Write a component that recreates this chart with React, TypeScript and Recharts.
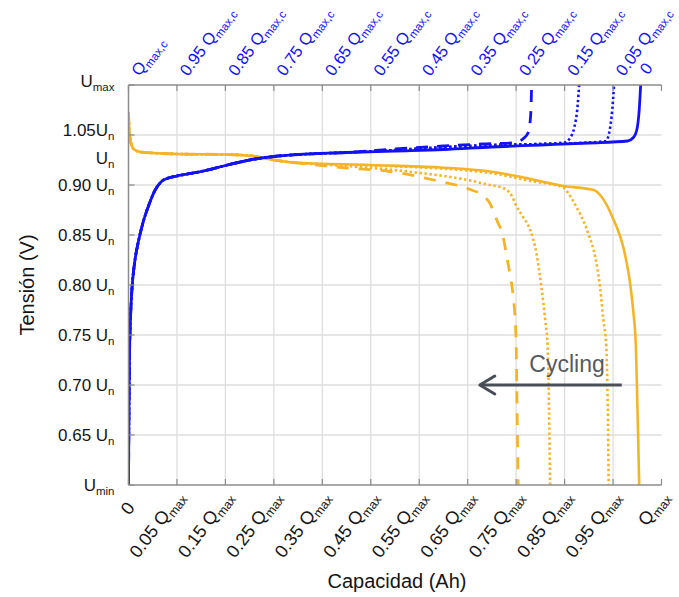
import React from "react";
import {
  CartesianGrid,
  Label,
  Line,
  LineChart,
  ReferenceDot,
  XAxis,
  YAxis,
} from "recharts";

// x in gridline units (0 = left border, 11 = right border), y in gridline units (0 = Umin, 8 = Umax)
const xTicks = [0, 1, 2, 3, 4, 5, 6, 7, 8, 9, 10, 11];
const bottomTickMain = ["0", "0.05 Q", "0.15 Q", "0.25 Q", "0.35 Q", "0.45 Q", "0.55 Q", "0.65 Q", "0.75 Q", "0.85 Q", "0.95 Q", "Q"];
const bottomTickSub = ["", "max", "max", "max", "max", "max", "max", "max", "max", "max", "max", "max"];
const topTickMain = ["Q", "0.95 Q", "0.85 Q", "0.75 Q", "0.65 Q", "0.55 Q", "0.45 Q", "0.35 Q", "0.25 Q", "0.15 Q", "0.05 Q", "0"];
const topTickSub = ["max,c", "max,c", "max,c", "max,c", "max,c", "max,c", "max,c", "max,c", "max,c", "max,c", "max,c", ""];

const yTicks = [0, 1, 2, 3, 4, 5, 6, 6.55, 7, 8];
const yTickMain = ["U", "0.65 U", "0.70 U", "0.75 U", "0.80 U", "0.85 U", "0.90 U", "U", "1.05U", "U"];
const yTickSub = ["min", "n", "n", "n", "n", "n", "n", "n", "n", "max"];
const rightTicks = [0, 1, 2, 3, 4, 5, 6, 7, 8];

const gridX = [1, 2, 3, 4, 5, 6, 7, 8, 9, 10];
const gridY = [1, 2, 3, 4, 5, 6, 7];

// charge (blue)
const chargeStartQ = [0, 0.01, 0.02, 0.04, 0.07, 0.12, 0.2, 0.3, 0.42, 0.55, 0.68, 0.82, 1.0, 1.5, 2.0, 2.5, 3.0, 3.7, 4.5];
const chargeStartU = [0, 1.5, 2.5, 3.3, 3.9, 4.4, 4.85, 5.25, 5.6, 5.9, 6.07, 6.14, 6.18, 6.27, 6.39, 6.5, 6.57, 6.62, 6.65];
const chargeSolidQ = [5.5, 6.5, 7.5, 8.5, 9.5, 10.3, 10.42, 10.49, 10.54, 10.57];
const chargeSolidU = [6.68, 6.71, 6.76, 6.8, 6.84, 6.88, 6.95, 7.1, 7.5, 8];
const chargeDottedAQ = [5.5, 6.5, 7.5, 8.5, 9.5, 9.85, 9.94, 10.0, 10.02];
const chargeDottedAU = [6.7, 6.75, 6.8, 6.82, 6.85, 6.88, 7.15, 7.7, 8];
const chargeDottedBQ = [5.5, 6.5, 7.5, 8.5, 9.0, 9.12, 9.2, 9.27, 9.3];
const chargeDottedBU = [6.7, 6.76, 6.8, 6.82, 6.85, 6.95, 7.15, 7.6, 8];
const chargeDashedQ = [5.5, 6.5, 7.3, 7.9, 8.04, 8.15, 8.25, 8.3, 8.32];
const chargeDashedU = [6.72, 6.78, 6.82, 6.84, 6.87, 6.93, 7.05, 7.4, 8];

// discharge (orange)
const dischargeStartQ = [0, 0.01, 0.03, 0.07, 0.13, 0.25, 0.5, 1.0, 2.0, 2.55, 3.0, 3.4];
const dischargeStartU = [7.45, 7.2, 6.95, 6.78, 6.7, 6.66, 6.64, 6.62, 6.61, 6.58, 6.5, 6.45];
const dischargeSolidQ = [4.98, 6.43, 7.46, 8.0, 8.97, 9.6, 9.75, 9.87, 10.0, 10.1, 10.2, 10.28, 10.35, 10.42, 10.47, 10.5, 10.54];
const dischargeSolidU = [6.4, 6.35, 6.27, 6.18, 5.98, 5.9, 5.78, 5.6, 5.33, 5.1, 4.8, 4.45, 4.05, 3.45, 2.8, 1.7, 0];
const dischargeDottedAQ = [4.98, 6.43, 7.46, 8.3, 8.97, 9.1, 9.25, 9.38, 9.5, 9.63, 9.73, 9.8, 9.86, 9.89, 9.91];
const dischargeDottedAU = [6.39, 6.33, 6.24, 6.08, 5.95, 5.8, 5.55, 5.3, 5.0, 4.57, 3.97, 3.3, 2.77, 1.6, 0];
const dischargeDottedBQ = [4.5, 5.94, 7.0, 7.46, 7.73, 7.9, 8.01, 8.15, 8.29, 8.42, 8.52, 8.6, 8.65, 8.68, 8.7];
const dischargeDottedBU = [6.38, 6.25, 6.1, 6.0, 5.94, 5.8, 5.57, 5.35, 5.1, 4.63, 3.97, 3.3, 2.77, 1.5, 0];
const dischargeDashedQ = [4.5, 5.39, 6.3, 7.05, 7.3, 7.46, 7.6, 7.73, 7.8, 7.87, 7.94, 7.98, 8.0, 8.02, 8.04];
const dischargeDashedU = [6.34, 6.27, 6.1, 5.91, 5.8, 5.63, 5.3, 4.97, 4.6, 4.23, 3.77, 3.3, 2.83, 1.5, 0];

// "Cycling" arrow
const arrowQ = [10.18, 7.25];
const arrowU = [2, 2];
const cyclingQ = 9.05;
const cyclingU = 2.43;

const BLUE = "#1212f5";
const ORANGE = "#f5b428";
const AXIS = "#8c8c8c";
const GRID = "#dedede";
const TEXT = "#151515";

const zip = (q: number[], u: number[]) => q.map((v, i) => ({ q: v, u: u[i] }));

const chargeSolid = zip(chargeStartQ.concat(chargeSolidQ), chargeStartU.concat(chargeSolidU));
const chargeDottedA = zip(chargeStartQ.concat(chargeDottedAQ), chargeStartU.concat(chargeDottedAU));
const chargeDottedB = zip(chargeStartQ.concat(chargeDottedBQ), chargeStartU.concat(chargeDottedBU));
const chargeDashed = zip(chargeStartQ.concat(chargeDashedQ), chargeStartU.concat(chargeDashedU));
const dischargeSolid = zip(dischargeStartQ.concat(dischargeSolidQ), dischargeStartU.concat(dischargeSolidU));
const dischargeDottedA = zip(dischargeStartQ.concat(dischargeDottedAQ), dischargeStartU.concat(dischargeDottedAU));
const dischargeDottedB = zip(dischargeStartQ.concat(dischargeDottedBQ), dischargeStartU.concat(dischargeDottedBU));
const dischargeDashed = zip(dischargeStartQ.concat(dischargeDashedQ), dischargeStartU.concat(dischargeDashedU));
const arrowData = zip(arrowQ, arrowU);

const LeftTick = ({ x, y, payload }: any) => {
  const i = yTicks.indexOf(payload.value);
  // the top two labels sit a little above their gridlines in the original
  const lift = payload.value === 8 ? -4 : payload.value === 7 ? -5 : 0;
  return (
    <g>
      {Number.isInteger(payload.value) && (
        <line x1={x} y1={y} x2={x + 6} y2={y} stroke={AXIS} strokeWidth={1.2} />
      )}
      <text x={x - 14} y={y + 6 + lift} textAnchor="end" fontSize={17} fill={TEXT}>
        {yTickMain[i]}
        <tspan fontSize={11.5} dy={4}>
          {yTickSub[i]}
        </tspan>
      </text>
    </g>
  );
};

const RightTick = ({ x, y }: any) => (
  <line x1={x} y1={y} x2={x - 6} y2={y} stroke={AXIS} strokeWidth={1.2} />
);

const BottomTick = ({ x, y, payload }: any) => {
  const i = xTicks.indexOf(payload.value);
  const zero = bottomTickSub[i] === "";
  return (
    <g>
      <line x1={x} y1={y} x2={x} y2={y - 6} stroke={AXIS} strokeWidth={1.2} />
      <text
        transform={`translate(${x + (zero ? 7 : 8)},${y + (zero ? 23 : 12)}) rotate(-53)`}
        textAnchor="end"
        fontSize={18}
        fill={TEXT}
      >
        {bottomTickMain[i]}
        <tspan fontSize={12.5} dy={4}>
          {bottomTickSub[i]}
        </tspan>
      </text>
    </g>
  );
};

const TopTick = ({ x, y, payload }: any) => {
  const i = xTicks.indexOf(payload.value);
  const zero = topTickSub[i] === "";
  return (
    <g>
      <line x1={x} y1={y} x2={x} y2={y + 6} stroke={AXIS} strokeWidth={1.2} />
      <text
        transform={`translate(${zero ? x - 8 : x + 11},${y - (zero ? 17 : 8)}) rotate(-54)`}
        textAnchor={zero ? "end" : "start"}
        fontSize={16.5}
        fill={BLUE}
      >
        {topTickMain[i]}
        <tspan fontSize={11.5} dy={4}>
          {topTickSub[i]}
        </tspan>
      </text>
    </g>
  );
};

const ArrowHead = (props: any) => {
  const { cx, cy, index } = props;
  if (index !== arrowData.length - 1) return <g key={`a${index}`} />;
  return (
    <path
      key={`a${index}`}
      d={`M${cx + 15},${cy - 9} L${cx},${cy} L${cx + 15},${cy + 9}`}
      fill="none"
      stroke="#4a4f57"
      strokeWidth={3}
      strokeLinecap="round"
      strokeLinejoin="round"
    />
  );
};

const lineBase = { dataKey: "u", type: "monotone" as const, dot: false, isAnimationActive: false };

export default function App() {
  return (
    <div style={{ position: "absolute", left: 0, top: 0, fontFamily: "'Liberation Sans', Arial, sans-serif" }}>
      <LineChart width={679} height={597} margin={{ top: 5, right: 17.5, bottom: 0, left: 0 }}>
        <CartesianGrid
          stroke={GRID}
          strokeWidth={1.3}
          horizontalValues={gridY}
          verticalValues={gridX}
        />
        <XAxis
          dataKey="q"
          type="number"
          domain={[0, 11]}
          ticks={xTicks}
          interval={0}
          height={112}
          tickSize={0}
          tickMargin={0}
          tickLine={false}
          tick={<BottomTick />}
          axisLine={{ stroke: AXIS, strokeWidth: 1.5 }}
          allowDataOverflow
        >
          <Label
            content={({ viewBox }: any) => (
              <text
                x={viewBox.x + viewBox.width / 2 + 2}
                y={viewBox.y + viewBox.height - 9}
                textAnchor="middle"
                fontSize={20}
                fill={TEXT}
              >
                Capacidad (Ah)
              </text>
            )}
          />
        </XAxis>
        <XAxis
          xAxisId="top"
          orientation="top"
          dataKey="q"
          type="number"
          domain={[0, 11]}
          ticks={xTicks}
          interval={0}
          height={80}
          tickSize={0}
          tickMargin={0}
          tickLine={false}
          tick={<TopTick />}
          axisLine={{ stroke: AXIS, strokeWidth: 1.5 }}
          allowDataOverflow
        />
        <YAxis
          type="number"
          domain={[0, 8]}
          ticks={yTicks}
          interval={0}
          width={128.5}
          tickSize={0}
          tickMargin={0}
          tickLine={false}
          tick={<LeftTick />}
          axisLine={{ stroke: AXIS, strokeWidth: 1.5 }}
          allowDataOverflow
        >
          <Label
            content={({ viewBox }: any) => (
              <text
                transform={`translate(${viewBox.x + 34},${viewBox.y + viewBox.height / 2}) rotate(-90)`}
                textAnchor="middle"
                fontSize={20}
                fill={TEXT}
              >
                Tensión (V)
              </text>
            )}
          />
        </YAxis>
        <YAxis
          yAxisId="right"
          orientation="right"
          type="number"
          domain={[0, 8]}
          ticks={rightTicks}
          interval={0}
          width={0}
          tickSize={0}
          tickMargin={0}
          tickLine={false}
          tick={<RightTick />}
          axisLine={{ stroke: AXIS, strokeWidth: 1.5 }}
          allowDataOverflow
        />

        <Line {...lineBase} data={dischargeSolid} stroke={ORANGE} strokeWidth={2.6} />
        <Line {...lineBase} data={dischargeDottedA} stroke={ORANGE} strokeWidth={2.6} strokeDasharray="2.4 2.6" />
        <Line {...lineBase} data={dischargeDottedB} stroke={ORANGE} strokeWidth={2.6} strokeDasharray="2.4 2.6" />
        <Line {...lineBase} data={dischargeDashed} stroke={ORANGE} strokeWidth={2.8} strokeDasharray="12 10" />

        <Line {...lineBase} data={chargeSolid} stroke={BLUE} strokeWidth={2.8} />
        <Line {...lineBase} data={chargeDottedA} stroke={BLUE} strokeWidth={2.6} strokeDasharray="2.4 2.6" />
        <Line {...lineBase} data={chargeDottedB} stroke={BLUE} strokeWidth={2.6} strokeDasharray="2.4 2.6" />
        <Line {...lineBase} data={chargeDashed} stroke={BLUE} strokeWidth={2.8} strokeDasharray="12 9" />

        <Line
          dataKey="u"
          type="linear"
          xAxisId="top"
          yAxisId="right"
          data={arrowData}
          stroke="#4a4f57"
          strokeWidth={3}
          dot={ArrowHead}
          activeDot={false}
          isAnimationActive={false}
        />
        <ReferenceDot
          x={cyclingQ}
          y={cyclingU}
          r={0}
          fill="none"
          stroke="none"
          label={{ value: "Cycling", position: "center", fill: "#555a60", fontSize: 23 }}
        />
      </LineChart>
    </div>
  );
}
